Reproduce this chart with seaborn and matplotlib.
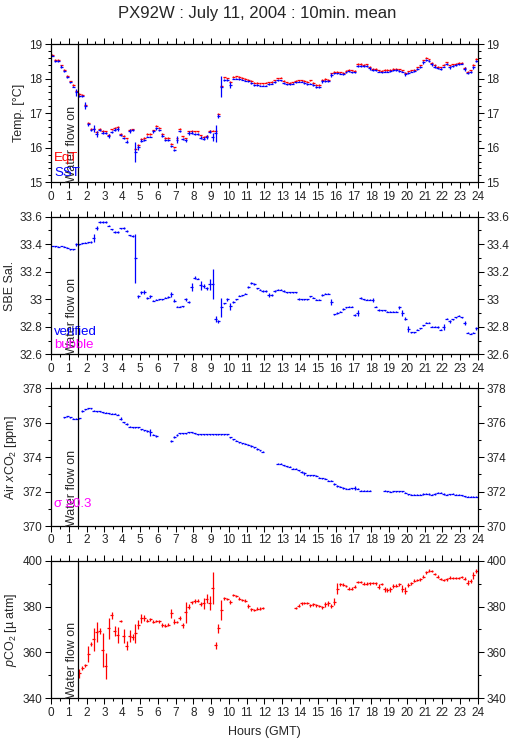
import numpy as np
import matplotlib
matplotlib.use("Agg")
import matplotlib.pyplot as plt
import matplotlib.transforms as mtransforms
from matplotlib.ticker import MultipleLocator, FormatStrFormatter
import seaborn as sns

nan = np.nan

# 10 minute bins, centred
hours = np.arange(144) / 6 + 1 / 12

sst = [18.66, 18.51, 18.51, 18.35, 18.23, 18.06, 17.89, 17.77, 17.61, 17.50,
       17.49, 17.21, 16.68, 16.52, 16.55, 16.39, 16.50, 16.44, 16.42, 16.34,
       16.46, 16.52, 16.54, 16.36, 16.28, 16.18, 16.48, 16.50, 15.88, 16.01,
       16.20, 16.22, 16.32, 16.32, 16.47, 16.56, 16.52, 16.35, 16.23, 16.23,
       16.06, 15.94, 16.23, 16.48, 16.25, 16.21, 16.42, 16.44, 16.40, 16.40,
       16.29, 16.26, 16.30, 16.46, 16.32, 16.42, 16.92, 17.77, 17.97, 17.95,
       17.82, 18.00, 18.00, 17.99, 17.97, 17.94, 17.92, 17.87, 17.82, 17.82,
       17.80, 17.80, 17.80, 17.85, 17.85, 17.89, 17.95, 17.95, 17.87, 17.83,
       17.83, 17.85, 17.89, 17.91, 17.91, 17.87, 17.85, 17.85, 17.82, 17.76,
       17.76, 17.92, 17.92, 17.92, 18.11, 18.15, 18.15, 18.14, 18.13, 18.18,
       18.21, 18.18, 18.18, 18.37, 18.37, 18.37, 18.37, 18.30, 18.24, 18.24,
       18.20, 18.18, 18.20, 18.20, 18.22, 18.24, 18.25, 18.22, 18.20, 18.13,
       18.16, 18.20, 18.22, 18.28, 18.33, 18.47, 18.55, 18.51, 18.41, 18.35,
       18.30, 18.28, 18.35, 18.43, 18.33, 18.37, 18.39, 18.41, 18.43, 18.28,
       18.16, 18.20, 18.33, 18.51]
sst_sd = [0.02, 0.03, 0.02, 0.03, 0.03, 0.03, 0.02, 0.02, 0.10, 0.03,
          0.03, 0.10, 0.04, 0.03, 0.10, 0.08, 0.03, 0.04, 0.03, 0.06,
          0.03, 0.04, 0.05, 0.03, 0.04, 0.04, 0.05, 0.03, 0.30, 0.08,
          0.04, 0.03, 0.02, 0.02, 0.03, 0.04, 0.03, 0.04, 0.03, 0.03,
          0.03, 0.03, 0.10, 0.03, 0.04, 0.03, 0.05, 0.03, 0.03, 0.03,
          0.04, 0.05, 0.06, 0.04, 0.12, 0.24, 0.05, 0.30, 0.03, 0.03,
          0.08, 0.02, 0.02, 0.02, 0.02, 0.02, 0.02, 0.02, 0.02, 0.02,
          0.02, 0.02, 0.02, 0.03, 0.02, 0.03, 0.02, 0.02, 0.04, 0.02,
          0.02, 0.02, 0.02, 0.02, 0.02, 0.02, 0.03, 0.02, 0.02, 0.04,
          0.03, 0.04, 0.03, 0.03, 0.05, 0.02, 0.02, 0.02, 0.02, 0.02,
          0.02, 0.02, 0.02, 0.03, 0.02, 0.02, 0.02, 0.04, 0.03, 0.02,
          0.02, 0.02, 0.02, 0.02, 0.02, 0.02, 0.02, 0.02, 0.02, 0.04,
          0.02, 0.02, 0.02, 0.03, 0.03, 0.04, 0.03, 0.03, 0.04, 0.03,
          0.02, 0.02, 0.02, 0.03, 0.04, 0.02, 0.02, 0.02, 0.02, 0.05,
          0.03, 0.03, 0.04, 0.04]
eqt = [18.68, 18.55, 18.55, 18.38, 18.26, 18.09, 17.92, 17.82, 17.65, 17.55,
       17.54, 17.25, 16.73, 16.55, 16.55, 16.45, 16.55, 16.48, 16.47, 16.38,
       16.53, 16.57, 16.60, 16.40, 16.35, 16.27, 16.52, 16.53, 15.96, 16.08,
       16.26, 16.28, 16.40, 16.40, 16.50, 16.64, 16.58, 16.40, 16.28, 16.28,
       16.12, 16.01, 16.27, 16.55, 16.33, 16.27, 16.47, 16.49, 16.47, 16.47,
       16.36, 16.31, 16.34, 16.49, 16.49, 16.49, 16.99, 17.80, 18.04, 18.01,
       17.90, 18.06, 18.07, 18.05, 18.02, 17.99, 17.97, 17.93, 17.88, 17.87,
       17.86, 17.86, 17.88, 17.89, 17.90, 17.95, 18.01, 18.03, 17.94, 17.89,
       17.87, 17.89, 17.93, 17.95, 17.95, 17.93, 17.91, 17.95, 17.87, 17.81,
       17.82, 17.96, 17.99, 17.96, 18.15, 18.20, 18.19, 18.18, 18.17, 18.23,
       18.26, 18.24, 18.23, 18.42, 18.42, 18.40, 18.41, 18.35, 18.28, 18.28,
       18.24, 18.23, 18.25, 18.25, 18.26, 18.29, 18.29, 18.27, 18.24, 18.17,
       18.21, 18.24, 18.26, 18.33, 18.38, 18.53, 18.61, 18.56, 18.46, 18.39,
       18.34, 18.33, 18.40, 18.47, 18.38, 18.41, 18.43, 18.45, 18.46, 18.32,
       18.20, 18.24, 18.39, 18.57]

sal = [33.387, 33.385, 33.382, 33.387, 33.382, 33.375, 33.363, 33.363, 33.400, 33.400,
       33.406, 33.410, 33.414, 33.416, 33.445, 33.515, 33.560, 33.560, 33.560, 33.535,
       33.508, 33.486, 33.490, 33.515, 33.520, 33.498, 33.464, 33.460, 33.297, 33.020,
       33.050, 33.050, 33.010, 33.020, 32.990, 32.995, 33.000, 33.000, 33.010, 33.015,
       33.035, 32.990, 32.945, 32.945, 32.950, 33.000, 32.980, 33.090, 33.157, 33.150,
       33.100, 33.096, 33.080, 33.110, 33.110, 32.857, 32.840, 32.940, 32.970, 33.000,
       32.950, 32.980, 33.000, 33.026, 33.030, 33.040, 33.090, 33.120, 33.110, 33.080,
       33.070, 33.060, 33.060, 33.030, 33.030, 33.060, 33.070, 33.070, 33.060, 33.050,
       33.050, 33.050, 33.050, 33.000, 33.000, 33.000, 33.000, 33.020, 33.010, 32.995,
       32.995, 33.030, 33.040, 33.040, 32.980, 32.890, 32.900, 32.910, 32.930, 32.940,
       32.945, 32.945, 32.887, 32.900, 33.010, 33.000, 32.995, 32.995, 32.995, 32.945,
       32.920, 32.920, 32.920, 32.910, 32.910, 32.910, 32.910, 32.940, 32.900, 32.860,
       32.785, 32.760, 32.760, 32.780, 32.790, 32.810, 32.830, 32.830, 32.800, 32.800,
       32.800, 32.780, 32.800, 32.860, 32.840, 32.855, 32.870, 32.880, 32.870, 32.830,
       32.757, 32.750, 32.757, 32.790]
sal_sd = [0.003, 0.003, 0.003, 0.003, 0.003, 0.003, 0.004, 0.003, 0.010, 0.003,
          0.003, 0.003, 0.004, 0.005, 0.030, 0.015, 0.008, 0.008, 0.006, 0.006,
          0.005, 0.008, 0.006, 0.005, 0.006, 0.008, 0.005, 0.008, 0.180, 0.010,
          0.012, 0.015, 0.005, 0.010, 0.004, 0.004, 0.004, 0.004, 0.004, 0.005,
          0.020, 0.012, 0.005, 0.004, 0.004, 0.012, 0.010, 0.030, 0.012, 0.005,
          0.030, 0.015, 0.010, 0.040, 0.110, 0.020, 0.010, 0.070, 0.006, 0.010,
          0.025, 0.010, 0.005, 0.004, 0.004, 0.004, 0.008, 0.008, 0.010, 0.005,
          0.004, 0.004, 0.004, 0.012, 0.005, 0.005, 0.004, 0.004, 0.004, 0.004,
          0.004, 0.004, 0.004, 0.006, 0.004, 0.004, 0.004, 0.006, 0.004, 0.004,
          0.004, 0.006, 0.005, 0.004, 0.020, 0.006, 0.005, 0.005, 0.005, 0.005,
          0.004, 0.004, 0.008, 0.025, 0.008, 0.005, 0.004, 0.004, 0.012, 0.004,
          0.006, 0.004, 0.004, 0.004, 0.004, 0.004, 0.004, 0.008, 0.020, 0.010,
          0.020, 0.005, 0.004, 0.004, 0.004, 0.005, 0.005, 0.004, 0.005, 0.004,
          0.008, 0.004, 0.020, 0.005, 0.010, 0.004, 0.004, 0.004, 0.004, 0.015,
          0.004, 0.004, 0.004, 0.010]

xco2 = [nan, nan, nan, nan, 376.31, 376.37, 376.31, 376.24, 376.24, 376.26,
        376.68, 376.78, 376.84, 376.84, 376.71, 376.68, 376.68, 376.62, 376.59, 376.55,
        376.53, 376.53, 376.47, 376.24, 376.02, 375.93, 375.77, 375.73, 375.73, 375.73,
        375.62, 375.56, 375.52, 375.44, 375.31, 375.23, nan, nan, nan, nan,
        374.92, 375.15, 375.29, 375.40, 375.40, 375.40, 375.44, 375.44, 375.38, 375.34,
        375.34, 375.34, 375.34, 375.33, 375.33, 375.33, 375.34, 375.34, 375.34, 375.34,
        375.16, 375.03, 374.96, 374.86, 374.82, 374.78, 374.72, 374.65, 374.58, 374.48,
        374.40, 374.33, nan, nan, nan, nan, 373.62, 373.62, 373.52, 373.48,
        373.45, 373.33, 373.33, 373.25, 373.14, 373.06, 372.94, 372.94, 372.94, 372.92,
        372.81, 372.77, 372.75, 372.63, 372.63, 372.44, 372.32, 372.28, 372.21, 372.17,
        372.17, 372.19, 372.21, 372.17, 372.05, 372.05, 372.05, 372.05, nan, nan,
        nan, nan, 372.05, 372.01, 371.99, 372.01, 372.01, 372.01, 372.03, 371.93,
        371.84, 371.82, 371.82, 371.82, 371.82, 371.86, 371.88, 371.86, 371.82, 371.86,
        371.92, 371.92, 371.86, 371.82, 371.84, 371.88, 371.82, 371.82, 371.78, 371.74,
        371.70, 371.70, 371.70, 371.70]
xco2_sd = [0.03, 0.03, 0.03, 0.03, 0.03, 0.03, 0.03, 0.03, 0.03, 0.04,
           0.08, 0.04, 0.03, 0.03, 0.03, 0.03, 0.03, 0.03, 0.03, 0.03,
           0.03, 0.03, 0.04, 0.08, 0.04, 0.04, 0.03, 0.03, 0.03, 0.03,
           0.03, 0.04, 0.04, 0.20, 0.05, 0.04, 0.03, 0.03, 0.03, 0.03,
           0.05, 0.06, 0.04, 0.03, 0.03, 0.03, 0.03, 0.03, 0.03, 0.03,
           0.03, 0.03, 0.03, 0.03, 0.03, 0.03, 0.03, 0.03, 0.03, 0.03,
           0.04, 0.04, 0.03, 0.03, 0.03, 0.03, 0.03, 0.03, 0.03, 0.04,
           0.03, 0.03, 0.03, 0.03, 0.03, 0.03, 0.04, 0.03, 0.03, 0.03,
           0.03, 0.03, 0.03, 0.03, 0.04, 0.08, 0.03, 0.03, 0.03, 0.03,
           0.03, 0.03, 0.03, 0.04, 0.03, 0.04, 0.04, 0.03, 0.03, 0.03,
           0.03, 0.03, 0.10, 0.03, 0.03, 0.03, 0.03, 0.03, 0.03, 0.03,
           0.03, 0.03, 0.03, 0.03, 0.03, 0.03, 0.03, 0.03, 0.03, 0.03,
           0.03, 0.03, 0.03, 0.03, 0.03, 0.03, 0.03, 0.03, 0.03, 0.03,
           0.03, 0.03, 0.03, 0.03, 0.03, 0.03, 0.03, 0.03, 0.03, 0.03,
           0.03, 0.03, 0.03, 0.03]

pco2 = [nan, nan, nan, nan, nan, nan, nan, nan, nan, 350.9,
        353.2, 354.4, 359.2, 363.8, 365.7, 368.9, 369.3, 361.1, 354.1, 370.5,
        376.2, 369.3, 367.6, 373.7, 367.2, 362.9, 367.2, 366.7, 368.3, 372.0,
        374.9, 375.0, 373.8, 374.4, 373.4, 373.7, 373.6, 372.0, 371.7, 372.1,
        377.0, 373.4, 373.3, 374.9, 371.8, 377.5, 380.0, 381.8, 382.4, 382.6,
        381.1, 381.4, 383.4, 381.4, 387.9, 363.2, 370.5, 378.5, 383.6, 383.3,
        382.1, 385.0, 384.6, 383.4, 382.9, 382.6, 380.2, 378.8, 378.6, 379.1,
        379.1, 379.4, nan, nan, nan, nan, nan, nan, nan, nan,
        nan, nan, 379.4, 380.4, 381.4, 381.4, 381.4, 380.5, 381.0, 380.5,
        380.2, 379.7, 381.0, 381.4, 380.2, 382.1, 387.8, 389.7, 389.5, 389.0,
        387.8, 387.8, 388.7, 390.6, 390.6, 390.0, 390.0, 390.1, 390.4, 390.1,
        388.7, 389.8, 387.5, 387.2, 387.5, 389.1, 389.1, 389.7, 387.7, 386.9,
        389.4, 390.1, 391.3, 391.6, 391.9, 393.0, 394.9, 395.6, 395.5, 394.2,
        393.0, 392.0, 391.6, 391.9, 392.6, 392.4, 392.4, 392.4, 392.9, 392.2,
        390.4, 391.1, 393.6, 395.5]
pco2_sd = [0.5, 0.5, 0.5, 0.5, 0.5, 0.5, 0.5, 0.5, 0.5, 2.0,
           1.0, 0.6, 3.5, 0.8, 5.0, 4.5, 1.2, 7.5, 5.5, 4.5,
           1.5, 2.0, 3.5, 0.6, 3.0, 2.0, 2.5, 1.5, 4.0, 2.0,
           2.0, 1.5, 0.6, 0.6, 0.6, 0.6, 0.6, 0.8, 0.6, 0.8,
           2.0, 1.2, 0.6, 0.8, 1.2, 4.5, 1.0, 0.8, 0.8, 0.8,
           1.0, 2.5, 2.0, 3.0, 7.0, 1.5, 2.0, 4.5, 0.6, 0.6,
           0.8, 0.6, 0.6, 0.6, 0.6, 0.6, 0.8, 0.6, 0.5, 0.5,
           0.5, 0.5, 0.5, 0.5, 0.5, 0.5, 0.5, 0.5, 0.5, 0.5,
           0.5, 0.5, 0.6, 0.6, 0.6, 0.5, 0.5, 0.6, 0.6, 0.6,
           0.6, 0.6, 1.0, 1.2, 0.8, 1.5, 2.5, 0.6, 0.6, 0.6,
           0.6, 0.6, 0.8, 0.5, 0.5, 0.5, 0.5, 0.5, 0.5, 0.5,
           1.0, 0.6, 1.0, 0.8, 1.0, 0.8, 0.6, 0.6, 1.5, 1.5,
           0.8, 0.6, 0.6, 0.6, 0.6, 0.6, 0.8, 0.6, 0.6, 0.6,
           0.6, 0.6, 0.6, 0.6, 0.6, 0.6, 0.6, 0.6, 0.6, 0.8,
           1.0, 1.0, 1.5, 1.0]

flow_on = 1.5
bin_half = 1 / 12

sns.set_style("ticks")
plt.rcParams["font.family"] = ["Liberation Sans", "DejaVu Sans"]
plt.rcParams["mathtext.fontset"] = "custom"
plt.rcParams["mathtext.rm"] = "Liberation Sans"
plt.rcParams["mathtext.it"] = "Liberation Sans:italic"

fig = plt.figure(figsize=(5.15, 7.39), dpi=100)
boxes = [(0.099, 0.7533, 0.829, 0.1871),
         (0.099, 0.5206, 0.829, 0.1862),
         (0.099, 0.2882, 0.829, 0.1863),
         (0.099, 0.0551, 0.829, 0.1862)]
axes = [fig.add_axes(b) for b in boxes]

fs = 8.5


def bars(ax, y, sd, color):
    ax.errorbar(hours, y, xerr=bin_half, yerr=sd, fmt="none",
                ecolor=color, elinewidth=0.9, capsize=0)


def style(ax, ylim, major, minor, ylabel):
    ax.set_xlim(0, 24)
    ax.set_ylim(*ylim)
    ax.xaxis.set_major_locator(MultipleLocator(1))
    ax.xaxis.set_minor_locator(MultipleLocator(0.5))
    ax.yaxis.set_major_locator(MultipleLocator(major))
    ax.yaxis.set_minor_locator(MultipleLocator(minor))
    ax.yaxis.set_major_formatter(FormatStrFormatter("%g"))
    ax.tick_params(which="both", direction="out", top=True, right=True,
                   labelright=True, labelsize=fs, width=0.75, color="black")
    ax.tick_params(which="major", length=4, pad=2)
    ax.tick_params(which="minor", length=2.5)
    for s in ax.spines.values():
        s.set_linewidth(0.9)
        s.set_color("black")
    ax.set_ylabel(ylabel, fontsize=fs + 0.5, labelpad=3)
    ax.axvline(flow_on, color="black", lw=0.9)
    tr = mtransforms.blended_transform_factory(ax.transData, ax.transAxes)
    ax.text(flow_on + 0.02, 0.0, "Water flow on", rotation=90, ha="right",
            va="bottom", fontsize=fs + 0.5, transform=tr)


# Temperature
ax = axes[0]
bars(ax, eqt, 0.02, "red")
bars(ax, sst, sst_sd, "blue")
style(ax, (15, 19), 1, 0.2, "Temp. [°C]")
ax.text(0.007, 0.175, "EqT", color="red", fontsize=fs + 1, transform=ax.transAxes, va="center")
ax.text(0.007, 0.068, "SST", color="blue", fontsize=fs + 1, transform=ax.transAxes, va="center")

# Salinity
ax = axes[1]
bars(ax, sal, sal_sd, "blue")
style(ax, (32.6, 33.6), 0.2, 0.1, "SBE Sal.")
ax.text(0.007, 0.162, "verified", color="blue", fontsize=fs + 1, transform=ax.transAxes, va="center")
ax.text(0.007, 0.068, "bubble", color="magenta", fontsize=fs + 1, transform=ax.transAxes, va="center")

# Air xCO2
ax = axes[2]
bars(ax, xco2, xco2_sd, "blue")
style(ax, (370, 378), 2, 1, r"Air $\mathit{x}$CO$_2$ [ppm]")
ax.text(0.007, 0.16, "σ ≥0.3", color="magenta", fontsize=fs + 1, transform=ax.transAxes, va="center")

# pCO2
ax = axes[3]
bars(ax, pco2, pco2_sd, "red")
style(ax, (340, 400), 20, 10, r"$\mathit{p}$CO$_2$ [µ atm]")
ax.set_xlabel("Hours (GMT)", fontsize=fs + 0.5, labelpad=5)

fig.suptitle("PX92W : July 11, 2004 : 10min. mean", fontsize=12, y=0.992, va="top")

fig.savefig("out.png", dpi=100)
